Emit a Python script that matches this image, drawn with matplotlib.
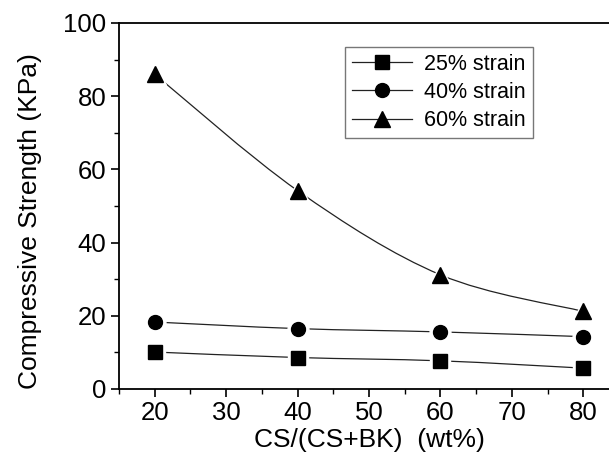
import matplotlib
matplotlib.use("Agg")
import matplotlib.pyplot as plt
from matplotlib.path import Path
from matplotlib.patches import PathPatch
from matplotlib.ticker import MultipleLocator
from matplotlib.lines import Line2D

plt.rcParams['font.family'] = ['Liberation Sans', 'DejaVu Sans']

x = [20, 40, 60, 80]
s25 = [10.1, 8.6, 7.7, 5.7]
s40 = [18.3, 16.5, 15.6, 14.3]
s60 = [86.0, 54.2, 31.2, 21.2]
labels = ['25% strain', '40% strain', '60% strain']
markers = ['s', 'o', '^']

fig = plt.figure(figsize=(6.09, 4.57), dpi=100)
ax = fig.add_axes([119 / 609, 68 / 457, 500 / 609, 366 / 457])


def smooth_path(xs, ys):
    pts = list(zip(xs, ys))
    verts = [pts[0]]
    codes = [Path.MOVETO]
    n = len(pts)
    for i in range(n - 1):
        p0 = pts[i - 1] if i > 0 else pts[i]
        p1 = pts[i]
        p2 = pts[i + 1]
        p3 = pts[i + 2] if i + 2 < n else pts[i + 1]
        c1 = (p1[0] + (p2[0] - p0[0]) / 6, p1[1] + (p2[1] - p0[1]) / 6)
        c2 = (p2[0] - (p3[0] - p1[0]) / 6, p2[1] - (p3[1] - p1[1]) / 6)
        verts += [c1, c2, p2]
        codes += [Path.CURVE4] * 3
    return Path(verts, codes)


handles = []
for ys, m, lab in zip([s25, s40, s60], markers, labels):
    ax.add_patch(PathPatch(smooth_path(x, ys), facecolor='none',
                           edgecolor='#222222', lw=0.9, zorder=2))
    ms = 11 if m == '^' else 10
    ax.plot(x, ys, ls='none', marker=m, ms=ms + 5, mfc='white', mec='white', zorder=3)
    ax.plot(x, ys, ls='none', marker=m, ms=ms, mfc='black', mec='black', zorder=4)
    handles.append(Line2D([], [], color='#222222', lw=0.9, marker=m, ms=ms,
                          mfc='black', mec='black', label=lab))

ax.set_xlim(15, 85)
ax.set_ylim(0, 100)
ax.xaxis.set_major_locator(MultipleLocator(10))
ax.xaxis.set_minor_locator(MultipleLocator(5))
ax.yaxis.set_major_locator(MultipleLocator(20))
ax.yaxis.set_minor_locator(MultipleLocator(10))
ax.tick_params(which='major', direction='out', length=6, width=1.2, labelsize=18.5, pad=3)
ax.tick_params(which='minor', direction='out', length=3.5, width=1.0)
for sp in ax.spines.values():
    sp.set_linewidth(1.3)

ax.set_xlabel('CS/(CS+BK)  (wt%)', fontsize=19, labelpad=2)
ax.set_ylabel('Compressive Strength (KPa)', fontsize=19)
ax.yaxis.set_label_coords(-0.153, 0.459)

leg = ax.legend(handles=handles, loc='upper left', bbox_to_anchor=(226 / 500, (389 - 47) / 366),
                fontsize=15.5, frameon=True, fancybox=False, edgecolor='#555555',
                handlelength=2.8, handletextpad=0.55, labelspacing=0.33,
                borderpad=0.32, borderaxespad=0)
leg.get_frame().set_linewidth(1.0)

fig.savefig('out.png', dpi=100)
